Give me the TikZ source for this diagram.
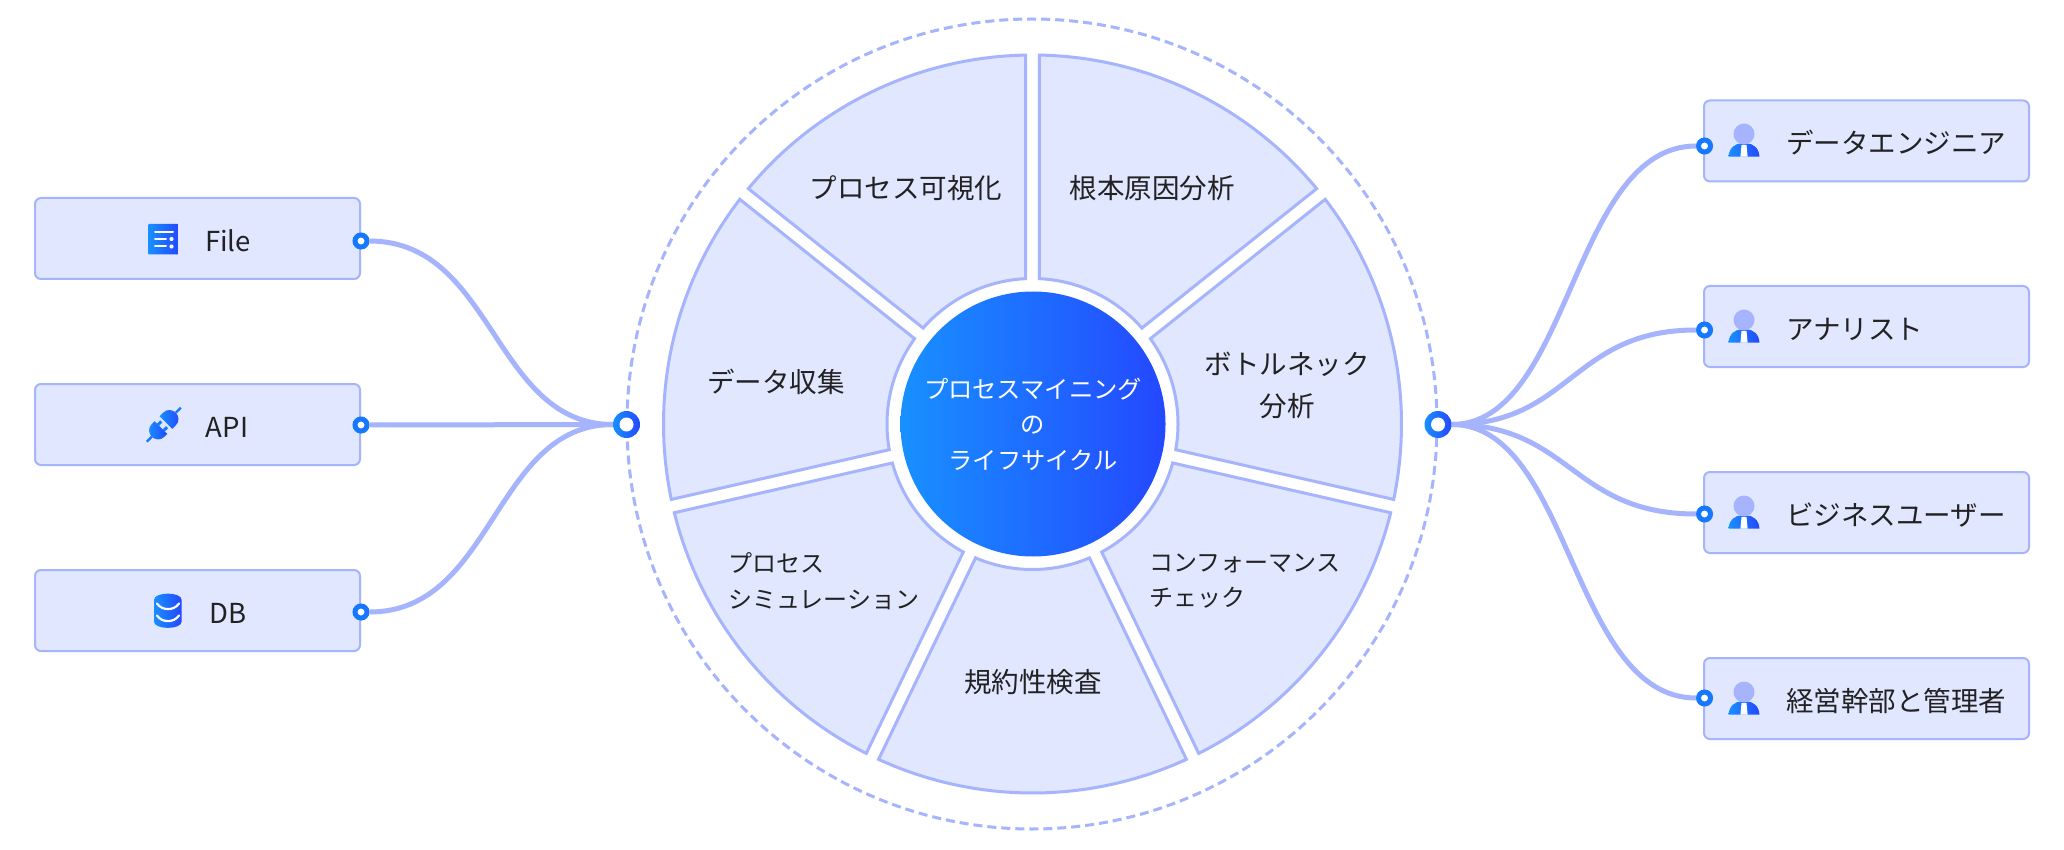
\documentclass[tikz,border=0pt]{standalone}
\usepackage{fontspec}
\setmainfont{Noto Sans CJK JP}
\definecolor{paneFill}{HTML}{E0E7FF}
\definecolor{paneLine}{HTML}{A5B4FC}
\definecolor{gradL}{HTML}{1890FF}
\definecolor{gradR}{HTML}{2448FF}
\definecolor{portBlue}{HTML}{1677FF}
\definecolor{inkText}{HTML}{222222}
\tikzset{
  srcbox/.style={draw=paneLine, fill=paneFill, line width=2pt, rounded corners=6pt, minimum width=325pt, minimum height=81pt, inner sep=0pt},
  label/.style={text=inkText, font=\fontsize{27.5}{42}\selectfont, inner sep=0pt, align=center},
  smalllabel/.style={text=inkText, font=\fontsize{24}{35.5}\selectfont, inner sep=0pt, align=left},
  port/.style={circle, draw=portBlue, fill=white, line width=5pt, minimum size=12pt, inner sep=0pt},
  hub/.style={circle, left color=gradL, right color=gradR, minimum size=27pt, inner sep=0pt},
  link/.style={draw=paneLine, line width=5pt},
  person/.pic={
    \shade[left color=gradL, right color=gradR] (-15.5,22.7) .. controls (-15,14) and (-9,9.3) .. (-2,9.3) -- (2,9.3) .. controls (9,9.3) and (15,14) .. (15.5,22.7) -- cycle;
    \fill[white] (-2.5,11) -- (2.5,11) -- (3.6,22.7) -- (-3.6,22.7) -- cycle;
    \fill[paneLine] (0,0) circle (10.5);
  }
}
\begin{document}
\begin{tikzpicture}[x=1pt, y=-1pt]
\fill[white] (0,0) rectangle (2064,850);
\useasboundingbox (0,0) rectangle (2064,850);
% outer dashed ring
\draw[paneLine, line width=3pt, dash pattern=on 9pt off 5pt] (1032,424) circle (405);
% seven sectors
\begin{scope}[shift={(1032.5,424)}]
\foreach \k in {0,...,6} {
  \pgfmathsetmacro{\a}{-90+\k*360/7}
  \pgfmathsetmacro{\b}{\a+360/7}
  \draw[draw=paneLine, fill=paneFill, line width=3pt] ({\a+1.06}:369) arc[start angle=\a+1.06, end angle=\b-1.06, radius=369] -- ({\b-2.68}:145.5) arc[start angle=\b-2.68, end angle=\a+2.68, radius=145.5] -- cycle;
}
\end{scope}
% labels inside
\node[label] (visual) at (906,188) {プロセス可視化};
\node[label] (rootcause) at (1152,188) {根本原因分析};
\node[label] (bottleneck) at (1287,385) {ボトルネック\\分析};
\node[label] (collect) at (776,382) {データ収集};
\node[label] (compliance) at (1033,682) {規約性検査};
\node[smalllabel, anchor=west] (simulation) at (728,581) {プロセス\\シミュレーション};
\node[smalllabel, anchor=west] (conformance) at (1149,581) {コンフォーマンス\\チェック};
% center disc
\node[circle, left color=gradL, right color=gradR, minimum size=265pt, inner sep=0pt, text=white, align=center, font=\fontsize{24.3}{35.5}\selectfont] (core) at (1033,424) {プロセスマイニング\\の\\ライフサイクル};
% left boxes
\node[srcbox] (file) at (197.5,238.5) {};
\node[srcbox] (api) at (197.5,424.5) {};
\node[srcbox] (db) at (197.5,610.5) {};
\node[label] (filetext) at (228,241) {File};
\node[label] (apitext) at (227,427) {API};
\node[label] (dbtext) at (228,613) {DB};
% file icon
\shade[left color=gradL, right color=gradR, rounded corners=1pt] (148,224) rectangle (178.5,254.5);
\draw[white, line width=2pt, line cap=round] (155,232) -- (173,232) (155,239) -- (166,239) (155,246.5) -- (166,246.5);
\fill[white] (171.5,239) circle (2.1) (171.5,246.5) circle (2.1);
% plug icon
\begin{scope}[shift={(164.5,424)}, rotate=45]
\shade[left color=gradL, right color=gradR] (2,-9) -- (7,-9) .. controls (13,-9) and (16,-4) .. (16,0) .. controls (16,4) and (13,9) .. (7,9) -- (2,9) -- cycle;
\shade[left color=gradL, right color=gradR] (-5,-9) -- (-9,-9) .. controls (-15,-9) and (-18,-4) .. (-18,0) .. controls (-18,4) and (-15,9) .. (-9,9) -- (-5,9) -- cycle;
\fill[portBlue] (16,-1.2) rectangle (23,1.2) (-18,-1.2) rectangle (-25,1.2) (-5,-5.5) rectangle (-0.5,-2.5) (-5,2.5) rectangle (-0.5,5.5);
\end{scope}
% db icon
\shade[left color=gradL, right color=gradR] (154,600) .. controls (154,591.5) and (181.7,591.5) .. (181.7,600) -- (181.7,621.5) .. controls (181.7,630) and (154,630) .. (154,621.5) -- cycle;
\draw[white, line width=2.2pt, line cap=round] (157,603.5) .. controls (162,611) and (174,611) .. (179,603.5);
\draw[white, line width=2.2pt, line cap=round] (157,615.5) .. controls (162,623) and (174,623) .. (179,615.5);
% right boxes
\node[srcbox] (engineer) at (1866.5,141) {};
\node[srcbox] (analyst) at (1866.5,326.5) {};
\node[srcbox] (bizuser) at (1866.5,512.5) {};
\node[srcbox] (manager) at (1866.5,698.5) {};
\pic at (1744,134) {person};
\pic at (1744,320) {person};
\pic at (1744,506) {person};
\pic at (1744,692) {person};
\node[label, anchor=west] (engineertext) at (1786,143) {データエンジニア};
\node[label, anchor=west] (analysttext) at (1786,329) {アナリスト};
\node[label, anchor=west] (bizusertext) at (1786,515) {ビジネスユーザー};
\node[label, anchor=west] (managertext) at (1786,701) {経営幹部と管理者};
% ports and hubs
\node[port] (pfile) at (361,241) {};
\node[port] (papi) at (361,425) {};
\node[port] (pdb) at (361,612) {};
\node[port] (pengineer) at (1704.5,146) {};
\node[port] (panalyst) at (1704.5,330) {};
\node[port] (pbizuser) at (1704.5,514) {};
\node[port] (pmanager) at (1704.5,698) {};
\node[hub] (hubL) at (626.5,424.5) {};
\node[hub] (hubR) at (1438,424.5) {};
\fill[white] (hubL.center) circle (7);
\fill[white] (hubR.center) circle (7);
% connectors
\draw[link] (pfile) .. controls +(133,0) and +(-133,0) .. (hubL);
\draw[link] (papi) -- (hubL);
\draw[link] (pdb) .. controls +(133,0) and +(-133,0) .. (hubL);
\draw[link] (hubR) .. controls +(133,0) and +(-133,0) .. (pengineer);
\draw[link] (hubR) .. controls +(133,0) and +(-133,0) .. (panalyst);
\draw[link] (hubR) .. controls +(133,0) and +(-133,0) .. (pbizuser);
\draw[link] (hubR) .. controls +(133,0) and +(-133,0) .. (pmanager);
\end{tikzpicture}
\end{document}
